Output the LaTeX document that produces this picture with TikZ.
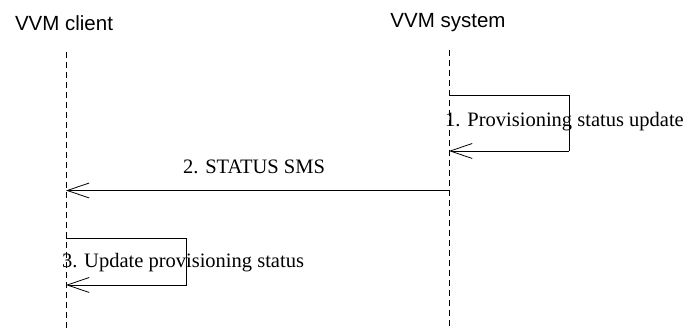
\documentclass[tikz,border=0pt]{standalone}
\usepackage{fontspec}
\setmainfont{Liberation Serif}
\newfontfamily\hdrfont{Liberation Sans}
\usetikzlibrary{arrows.meta}
\begin{document}
\begin{tikzpicture}[x=1pt,y=1pt,
  hdr/.style={font=\hdrfont\fontsize{20.5}{24}\selectfont, inner sep=0pt},
  lbl/.style={font=\fontsize{20.5}{24}\selectfont, inner sep=0pt},
  lifeline/.style={line width=0.8pt, dash pattern=on 6pt off 4pt},
  msg/.style={line width=0.8pt, -{Straight Barb[length=22pt,width=15pt,line width=0.8pt]}},
  loopline/.style={line width=0.8pt}]
\useasboundingbox (0,0) rectangle (691,328);
% headers
\node[hdr] (client) at (64,305) {VVM client};
\node[hdr] (system) at (448,305) {VVM system};
% lifelines
\coordinate (cTop) at (66,276);
\coordinate (cBot) at (66,0);
\coordinate (sTop) at (449,278);
\coordinate (sBot) at (449,0);
\draw[lifeline] (cTop) -- (cBot);
\draw[lifeline] (sTop) -- (sBot);
% 1. self message on system
\coordinate (l1a) at (449,233);
\coordinate (l1b) at (569,233);
\coordinate (l1c) at (569,177);
\coordinate (l1d) at (449,177);
\draw[loopline] (l1a) -- (l1b) -- (l1c);
\draw[msg] (l1c) -- (l1d);
\node[lbl, fill=white, fill opacity=0, text opacity=1] (t1) at (564.5,206) {1. Provisioning status update};
% 2. STATUS SMS
\coordinate (m2s) at (449,137.5);
\coordinate (m2e) at (66,137.5);
\draw[msg] (m2s) -- (m2e);
\node[lbl] (t2) at (254,161) {2. STATUS SMS};
% 3. self message on client
\coordinate (l3a) at (66,90);
\coordinate (l3b) at (186.5,90);
\coordinate (l3c) at (186.5,43);
\coordinate (l3d) at (66,43);
\draw[loopline] (l3a) -- (l3b) -- (l3c);
\draw[msg] (l3c) -- (l3d);
\node[lbl] (t3) at (183,65) {3. Update provisioning status};
\end{tikzpicture}
\end{document}
